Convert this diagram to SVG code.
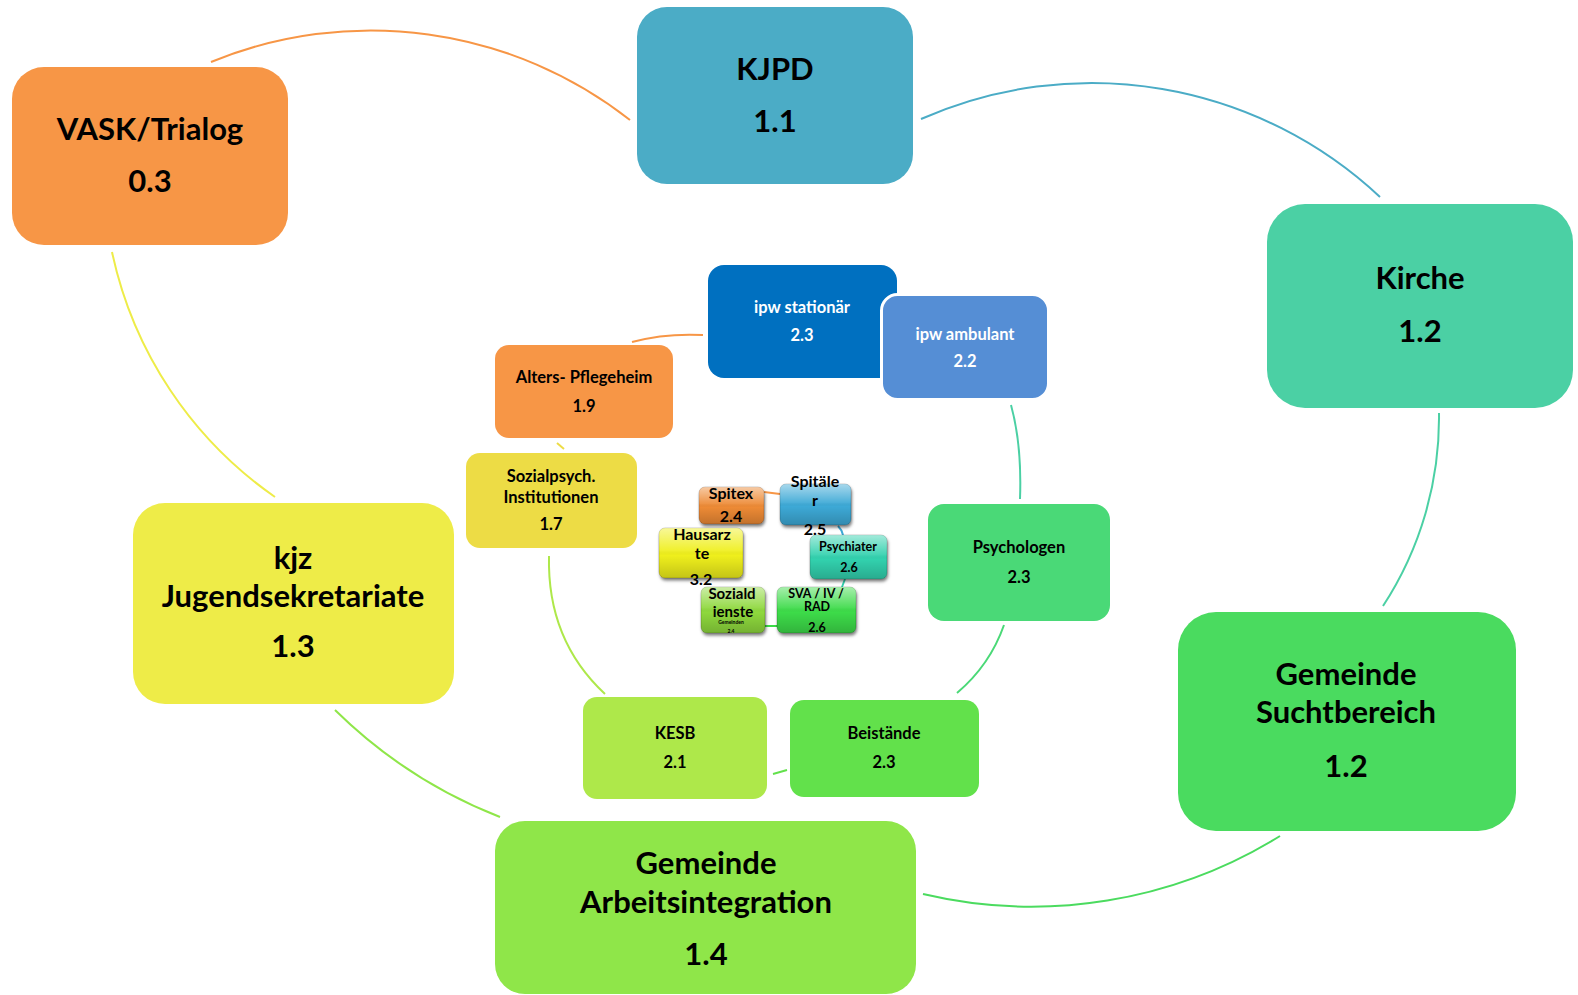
<svg xmlns="http://www.w3.org/2000/svg" width="1578" height="995" viewBox="0 0 1578 995">
<defs>
<style>
text{font-family:Lato,"Open Sans","DejaVu Sans",sans-serif;font-weight:bold;text-anchor:middle;fill:#000}
.big{font-size:31px}
.mid{font-size:16.5px}
.w{fill:#fff}
.s16{font-size:16px}
.s15{font-size:15px}
.s12{font-size:12.5px}
.s5{font-size:5px}
.c{fill:none;stroke-width:2}
.btn{filter:url(#sh);stroke:#000;stroke-opacity:0.18;stroke-width:1}
.gl{fill:url(#gloss)}
</style>
<linearGradient id="gloss" x1="0" y1="0" x2="0" y2="1">
<stop offset="0" stop-color="#fff" stop-opacity="0.55"/>
<stop offset="0.45" stop-color="#fff" stop-opacity="0.08"/>
<stop offset="0.55" stop-color="#000" stop-opacity="0"/>
<stop offset="1" stop-color="#000" stop-opacity="0.18"/>
</linearGradient>
<filter id="sh" x="-20%" y="-20%" width="140%" height="160%">
<feDropShadow dx="1" dy="2.5" stdDeviation="1.5" flood-color="#000" flood-opacity="0.5"/>
</filter>
</defs>
<rect width="1578" height="995" fill="#fff"/>
<g id="connectors" class="c">
<path d="M211,62 A420,420 0 0 1 630,120" stroke="#F79646"/>
<path d="M921,119 A422,422 0 0 1 1380,197" stroke="#4BACC6"/>
<path d="M1439,413 A344,344 0 0 1 1383,606" stroke="#4BD0A4"/>
<path d="M1280,836 A472,472 0 0 1 923,894" stroke="#4BDB5F"/>
<path d="M335,710 A489,489 0 0 0 500,817" stroke="#8FE649"/>
<path d="M112,252 A400,400 0 0 0 275,497" stroke="#EEEC48"/>
<path d="M632,342 Q665,333 703,335" stroke="#F79646"/>
<path d="M881,292 L883,302" stroke="#4BD0A4"/>
<path d="M1011,405 Q1022,445 1020,499" stroke="#4BD0A4"/>
<path d="M1004,625 Q990,665 957,693" stroke="#4AD977"/>
<path d="M773,774 L787,770" stroke="#62E14B"/>
<path d="M549,556 Q547,640 605,694" stroke="#AEE84A"/>
<path d="M557,443 L564,449" stroke="#EDDC45"/>
<path d="M764,492 L780,494" stroke="#F79646"/>
<path d="M838,526 Q842,530 843,535" stroke="#3CA9D6"/>
<path d="M845,579 L842,587" stroke="#33D1AE"/>
<path d="M765,626 L777,626" stroke="#3CDB48"/>
</g>
<g id="kjpd">
<rect x="637" y="7" width="276" height="177" rx="30" fill="#4BACC6"/>
<text class="big" x="775" y="80">KJPD</text>
<text class="big" x="775" y="132">1.1</text>
</g>
<g id="vask">
<rect x="12" y="67" width="276" height="178" rx="32" fill="#F79646"/>
<text class="big" x="150" y="140">VASK/Trialog</text>
<text class="big" x="150" y="192">0.3</text>
</g>
<g id="kirche">
<rect x="1267" y="204" width="306" height="204" rx="38" fill="#4BD0A4"/>
<text class="big" x="1420" y="289">Kirche</text>
<text class="big" x="1420" y="342">1.2</text>
</g>
<g id="sucht">
<rect x="1178" y="612" width="338" height="219" rx="38" fill="#4ADB5F"/>
<text class="big" x="1346" y="685">Gemeinde</text>
<text class="big" x="1346" y="723">Suchtbereich</text>
<text class="big" x="1346" y="777">1.2</text>
</g>
<g id="kjz">
<rect x="133" y="503" width="321" height="201" rx="32" fill="#EEEC48"/>
<text class="big" x="293" y="569">kjz</text>
<text class="big" x="293" y="607">Jugendsekretariate</text>
<text class="big" x="293" y="657">1.3</text>
</g>
<g id="arbeit">
<rect x="495" y="821" width="421" height="173" rx="30" fill="#8FE649"/>
<text class="big" x="706" y="874">Gemeinde</text>
<text class="big" x="706" y="913">Arbeitsintegration</text>
<text class="big" x="706" y="965">1.4</text>
</g>
<g id="ipw-stationaer">
<rect x="708" y="265" width="189" height="113" rx="16" fill="#0070C0"/>
<text class="mid w" x="802" y="313">ipw stationär</text>
<text class="mid w" x="802" y="341">2.3</text>
</g>
<g id="ipw-ambulant">
<rect x="881.5" y="294.5" width="167" height="105" rx="16" fill="#558ED5" stroke="#fff" stroke-width="3"/>
<text class="mid w" x="965" y="340">ipw ambulant</text>
<text class="mid w" x="965" y="367">2.2</text>
</g>
<g id="alters">
<rect x="495" y="345" width="178" height="93" rx="14" fill="#F79646"/>
<text class="mid" x="584" y="383">Alters- Pflegeheim</text>
<text class="mid" x="584" y="412">1.9</text>
</g>
<g id="sozialpsych">
<rect x="466" y="453" width="171" height="95" rx="14" fill="#EDDC45"/>
<text class="mid" x="551" y="482">Sozialpsych.</text>
<text class="mid" x="551" y="503">Institutionen</text>
<text class="mid" x="551" y="530">1.7</text>
</g>
<g id="psychologen">
<rect x="928" y="504" width="182" height="117" rx="16" fill="#4AD977"/>
<text class="mid" x="1019" y="553">Psychologen</text>
<text class="mid" x="1019" y="583">2.3</text>
</g>
<g id="kesb">
<rect x="583" y="697" width="184" height="102" rx="14" fill="#AEE84A"/>
<text class="mid" x="675" y="739">KESB</text>
<text class="mid" x="675" y="768">2.1</text>
</g>
<g id="beistaende">
<rect x="790" y="700" width="189" height="97" rx="14" fill="#62E14B"/>
<text class="mid" x="884" y="739">Beistände</text>
<text class="mid" x="884" y="768">2.3</text>
</g>
<g id="spitex">
<rect class="btn" x="699" y="487" width="65" height="37" rx="6" fill="#ED8A35"/>
<rect class="gl" x="699" y="487" width="65" height="37" rx="6"/>
<text class="s16" x="731" y="499">Spitex</text>
<text class="s16" x="731" y="522">2.4</text>
</g>
<g id="spitaeler">
<rect class="btn" x="780" y="484" width="71" height="41" rx="6" fill="#3CA9D6"/>
<rect class="gl" x="780" y="484" width="71" height="41" rx="6"/>
<text class="s16" x="815" y="487">Spitäle</text>
<text class="s16" x="815" y="506">r</text>
<text class="s16" x="815" y="535">2.5</text>
</g>
<g id="hausaerzte">
<rect class="btn" x="659" y="528" width="84" height="50" rx="6" fill="#EFEF1E"/>
<rect class="gl" x="659" y="528" width="84" height="50" rx="6"/>
<text class="s16" x="702" y="540">Hausarz</text>
<text class="s16" x="702" y="559">te</text>
<text class="s16" x="701" y="585">3.2</text>
</g>
<g id="psychiater">
<rect class="btn" x="810" y="535" width="77" height="44" rx="6" fill="#33D1AE"/>
<rect class="gl" x="810" y="535" width="77" height="44" rx="6"/>
<text class="s12" x="848" y="551">Psychiater</text>
<text class="s12" x="849" y="572">2.6</text>
</g>
<g id="sozialdienste">
<rect class="btn" x="701" y="587" width="64" height="46" rx="6" fill="#8ED83C"/>
<rect class="gl" x="701" y="587" width="64" height="46" rx="6"/>
<text class="s15" x="732" y="599">Soziald</text>
<text class="s15" x="733" y="617">ienste</text>
<text class="s5" x="731" y="624">Gemeinden</text>
<text class="s5" x="731" y="633">2.4</text>
</g>
<g id="sva">
<rect class="btn" x="777" y="587" width="79" height="46" rx="6" fill="#3CDB48"/>
<rect class="gl" x="777" y="587" width="79" height="46" rx="6"/>
<text class="s12" x="816" y="598">SVA / IV /</text>
<text class="s12" x="817" y="611">RAD</text>
<text class="s12" x="817" y="632">2.6</text>
</g>
</svg>
